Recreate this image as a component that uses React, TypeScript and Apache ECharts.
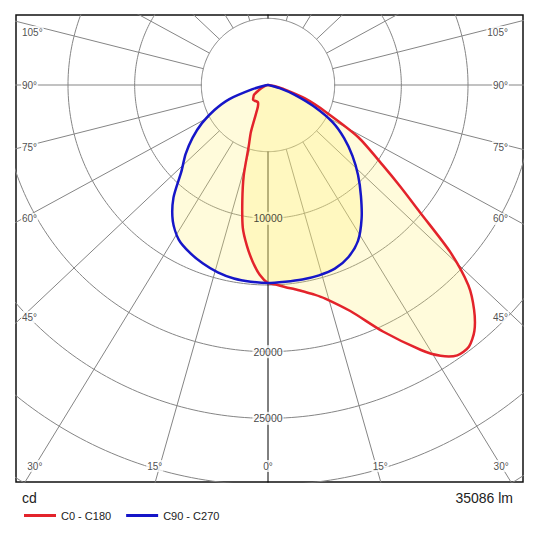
import React, { useEffect, useRef } from "react";
import * as echarts from "echarts";

// ---- Data (candela, angle gamma from nadir in degrees) ----
const gammaC0 = [0, 2.5, 5, 7.5, 10, 12.5, 15, 20, 25, 30, 32.5, 35, 37.5, 40, 42.5, 45, 47.5, 50, 52.5, 55, 60, 65, 70, 75, 80, 85, 90];
const intensityC0 = [14850, 15000, 15230, 15450, 15750, 16100, 16580, 18040, 20400, 22950, 24080, 24750, 24750, 24080, 22880, 21250, 18530, 14930, 12500, 10540, 7800, 4780, 2950, 1280, 450, 150, 0];

const gammaC180 = [0, 2.5, 5, 7.5, 10, 12.5, 15, 17.5, 20, 22.5, 25, 30, 35, 40, 45, 50, 55, 60, 65, 70, 80, 90];
const intensityC180 = [14850, 14250, 13280, 12150, 10880, 8900, 7030, 4800, 3750, 2400, 1800, 1500, 1500, 1540, 1580, 1430, 1280, 830, 530, 300, 75, 0];

const gammaC90 = [0, 5, 10, 15, 20, 25, 30, 35, 40, 45, 50, 55, 60, 65, 70, 75, 80, 90];
const intensityC90 = [14850, 14810, 14810, 14780, 14660, 14250, 13500, 12240, 10840, 9550, 8270, 6980, 5610, 3780, 2100, 900, 150, 0];

const gammaC270 = [0, 5, 10, 15, 20, 25, 30, 35, 40, 45, 50, 55, 60, 65, 70, 75, 80, 90];
const intensityC270 = [14850, 14810, 14740, 14550, 14250, 13880, 13390, 12450, 11030, 9190, 8070, 6910, 5720, 4430, 3080, 1200, 300, 0];

const ringValues = [5000, 10000, 15000, 20000, 25000, 30000, 35000, 40000];
const ringLabelValues = [10000, 20000, 25000];
const angleTicks = [0, 15, 30, 45, 60, 75, 90, 105, 120, 135, 150, 165, 180, 195, 210, 225, 240, 255, 270, 285, 300, 315, 330, 345];
const sideAngleLabels = [45, 60, 75, 90, 105];
const bottomAngleLabels = [0, 15, 30];
const seriesNames = ["C0 - C180", "C90 - C270"];
const luminousFlux = "35086 lm";
const unitLabel = "cd";

// ---- Layout / style ----
const FONT = "'Liberation Sans', Arial, sans-serif";
const CD_PER_PX = 75;
const FRAME = { left: 16, top: 15, right: 523, bottom: 482 };
const CENTER = { x: 268, y: 85 };
const LINE_ASPECT = 1.06;
const SIDE_LABEL_ASPECT = 1.03;
const GRID_COLOR = "#858585";
const RED = "#e3232b";
const BLUE = "#1616c8";
const FILL = "rgba(255, 240, 110, 0.25)";

const deg = Math.PI / 180;
const xMin = (FRAME.left - CENTER.x) * CD_PER_PX;
const xMax = (FRAME.right - CENTER.x) * CD_PER_PX;
const yMin = (FRAME.top - CENTER.y) * CD_PER_PX;
const yMax = (FRAME.bottom - CENTER.y) * CD_PER_PX;

const toXY = (g: number, I: number, side: number) => [side * I * Math.sin(g * deg), I * Math.cos(g * deg)];

function planePolygon(gL: number[], iL: number[], gR: number[], iR: number[]) {
  const pts: number[][] = [];
  for (let i = gL.length - 1; i >= 0; i--) pts.push(toXY(gL[i], iL[i], -1));
  for (let i = 1; i < gR.length; i++) pts.push(toXY(gR[i], iR[i], 1));
  const a = pts[0], b = pts[pts.length - 1];
  if (Math.abs(a[0] - b[0]) < 1e-6 && Math.abs(a[1] - b[1]) < 1e-6) pts.pop();
  return pts;
}

const pxToData = (px: number, py: number) => [(px - CENTER.x) * CD_PER_PX, (py - CENTER.y) * CD_PER_PX];

function buildOption() {
  const series: any[] = [];

  // rings
  ringValues.forEach((r) => {
    const data: number[][] = [];
    for (let d = 0; d <= 360; d += 1) data.push([r * Math.sin(d * deg), r * Math.cos(d * deg)]);
    series.push({
      type: "line", data, symbol: "none", silent: true, z: 1,
      lineStyle: { color: GRID_COLOR, width: 1 }, animation: false,
    });
  });

  // radial lines
  angleTicks.forEach((a) => {
    let sx = Math.sin(a * deg) * LINE_ASPECT, sy = Math.cos(a * deg);
    const n = Math.hypot(sx, sy);
    sx /= n; sy /= n;
    const r0 = ringValues[0], r1 = 60000;
    series.push({
      type: "line", data: [[r0 * sx, r0 * sy], [r1 * sx, r1 * sy]], symbol: "none", silent: true, z: 1,
      lineStyle: { color: a % 180 === 0 ? "#000" : GRID_COLOR, width: 1 }, animation: false,
    });
  });

  const labelBase = {
    show: true, position: "inside", formatter: "{b}", fontFamily: FONT, color: "#111",
    textBorderWidth: 0, textBorderColor: "transparent", backgroundColor: "#fff", padding: [1, 1],
  };

  // ring labels: white knock-out below the light fill, text above it
  const ringData = ringLabelValues.map((v) => ({ name: String(v), value: [0, v] }));
  series.push({
    type: "scatter", silent: true, z: 2, symbol: "circle", symbolSize: 1,
    itemStyle: { color: "rgba(0,0,0,0)" },
    data: ringData,
    label: { ...labelBase, fontSize: 10.5, color: "rgba(0,0,0,0)" },
  });
  series.push({
    type: "scatter", silent: true, z: 5, symbol: "circle", symbolSize: 1,
    itemStyle: { color: "rgba(0,0,0,0)" },
    data: ringData,
    label: { ...labelBase, fontSize: 10.5, backgroundColor: "transparent" },
  });

  // angle labels
  const angleData: any[] = [];
  const dLeft = CENTER.x - (FRAME.left + 13);
  sideAngleLabels.forEach((g) => {
    const t = Math.cos(g * deg) / (SIDE_LABEL_ASPECT * Math.sin(g * deg));
    let py = CENTER.y + dLeft * t;
    py = Math.max(py, FRAME.top + 17);
    angleData.push({ name: g + "°", value: pxToData(FRAME.left + 5, py), label: { align: "left" } });
    angleData.push({ name: g + "°", value: pxToData(FRAME.right - 14, py), label: { align: "right" } });
  });
  bottomAngleLabels.forEach((g) => {
    const py = FRAME.bottom - 16;
    const dx = (py - CENTER.y) * LINE_ASPECT * Math.tan(g * deg);
    angleData.push({ name: g + "°", value: pxToData(CENTER.x - dx - (g === 15 ? 5 : 0), py) });
    if (g !== 0) angleData.push({ name: g + "°", value: pxToData(CENTER.x + dx + (g === 15 ? 4 : 0), py) });
  });
  series.push({
    type: "scatter", silent: true, z: 2, symbol: "circle", symbolSize: 1,
    itemStyle: { color: "rgba(0,0,0,0)" },
    data: angleData,
    label: { ...labelBase, fontSize: 10, color: "#222" },
  });

  const redPts = planePolygon(gammaC180, intensityC180, gammaC0, intensityC0);
  const bluePts = planePolygon(gammaC270, intensityC270, gammaC90, intensityC90);

  const poly = (name: string | undefined, pts: number[][], fill: string, stroke: string | null, z: number, color: string) => ({
    type: "custom", name, coordinateSystem: "cartesian2d", data: [[0, 0]], z, silent: true,
    itemStyle: { color },
    renderItem: (_p: any, api: any) => ({
      type: "polygon",
      shape: { points: pts.map((p) => api.coord(p)), smooth: 0.25 },
      style: { fill, stroke: stroke || "none", lineWidth: 2.5, lineJoin: "round" },
    }),
  });

  series.push(poly(undefined, redPts, FILL, null, 3, FILL));
  series.push(poly(undefined, bluePts, FILL, null, 3, FILL));
  series.push(poly(seriesNames[0], redPts, "none", RED, 4, RED));
  series.push(poly(seriesNames[1], bluePts, "none", BLUE, 4, BLUE));

  return {
    animation: false,
    backgroundColor: "#fff",
    grid: {
      left: FRAME.left, top: FRAME.top, width: FRAME.right - FRAME.left, height: FRAME.bottom - FRAME.top,
      show: true, borderColor: "#111", borderWidth: 1.5, backgroundColor: "#fff",
    },
    xAxis: { type: "value", min: xMin, max: xMax, show: false, splitLine: { show: false } },
    yAxis: { type: "value", min: yMin, max: yMax, inverse: true, show: false, splitLine: { show: false } },
    legend: {
      left: 19, top: 505, icon: "rect", itemWidth: 32, itemHeight: 3, itemGap: 15,
      selectedMode: false,
      textStyle: { fontFamily: FONT, fontSize: 11, color: "#222" },
      data: [
        { name: seriesNames[0], itemStyle: { color: RED } },
        { name: seriesNames[1], itemStyle: { color: BLUE } },
      ],
    },
    graphic: [
      { type: "text", left: 22, top: 491, style: { text: unitLabel, font: `14px ${FONT}`, fill: "#222" } },
      { type: "text", right: 22, top: 491, style: { text: luminousFlux, font: `14px ${FONT}`, fill: "#222" } },
    ],
    series,
  };
}

export default function App() {
  const ref = useRef<HTMLDivElement>(null);
  useEffect(() => {
    const chart = echarts.init(ref.current!, undefined, { renderer: "svg" });
    chart.setOption(buildOption() as any);
    return () => chart.dispose();
  }, []);
  return (
    <div
      ref={ref}
      style={{ position: "fixed", left: 0, top: 0, width: 535, height: 535, background: "#fff" }}
    />
  );
}
